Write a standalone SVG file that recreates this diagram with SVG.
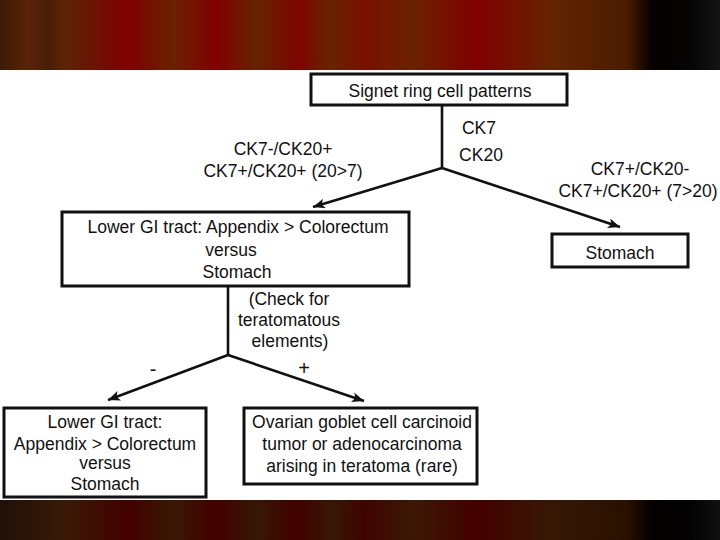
<svg xmlns="http://www.w3.org/2000/svg" width="720" height="540" viewBox="0 0 720 540">
<defs>
<linearGradient id="topband" x1="0" y1="0" x2="1" y2="0">
<stop offset="0" stop-color="#3c1a08"/>
<stop offset="0.04" stop-color="#5a2408"/>
<stop offset="0.065" stop-color="#4a1c06"/>
<stop offset="0.09" stop-color="#5c2406"/>
<stop offset="0.178" stop-color="#800000"/>
<stop offset="0.24" stop-color="#6a2200"/>
<stop offset="0.30" stop-color="#800000"/>
<stop offset="0.357" stop-color="#662400"/>
<stop offset="0.414" stop-color="#7e0400"/>
<stop offset="0.46" stop-color="#662400"/>
<stop offset="0.504" stop-color="#7a1000"/>
<stop offset="0.574" stop-color="#6a2200"/>
<stop offset="0.663" stop-color="#800000"/>
<stop offset="0.765" stop-color="#642400"/>
<stop offset="0.87" stop-color="#4a1c00"/>
<stop offset="0.905" stop-color="#080000"/>
<stop offset="0.96" stop-color="#050505"/>
<stop offset="1" stop-color="#141414"/>
</linearGradient>
<linearGradient id="botband" x1="0" y1="0" x2="1" y2="0">
<stop offset="0" stop-color="#201008"/>
<stop offset="0.09" stop-color="#3a1a06"/>
<stop offset="0.178" stop-color="#420000"/>
<stop offset="0.24" stop-color="#3a1804"/>
<stop offset="0.30" stop-color="#420000"/>
<stop offset="0.357" stop-color="#361804"/>
<stop offset="0.414" stop-color="#420000"/>
<stop offset="0.46" stop-color="#361804"/>
<stop offset="0.504" stop-color="#400400"/>
<stop offset="0.574" stop-color="#3a1804"/>
<stop offset="0.663" stop-color="#440000"/>
<stop offset="0.765" stop-color="#361804"/>
<stop offset="0.87" stop-color="#2a1000"/>
<stop offset="0.905" stop-color="#050000"/>
<stop offset="0.96" stop-color="#030303"/>
<stop offset="1" stop-color="#101010"/>
</linearGradient>
<marker id="arrow" markerUnits="userSpaceOnUse" markerWidth="13" markerHeight="10" refX="12" refY="5" orient="auto">
<path d="M0,0 L12,5 L0,10 L3,5 z" fill="#111"/>
</marker>
<style>
.box{fill:#fff;stroke:#111;stroke-width:3}
.t{font-family:"Liberation Sans",Arial,sans-serif;font-size:17.5px;fill:#111;text-anchor:middle}
.s{font-size:20px}
.ln{stroke:#111;stroke-width:2.6;fill:none}
</style>
</defs>
<rect x="0" y="0" width="720" height="540" fill="#fff"/>
<rect x="0" y="0" width="720" height="70" fill="url(#topband)"/>
<rect x="0" y="500" width="720" height="40" fill="url(#botband)"/>

<g id="connectors">
<line class="ln" x1="442" y1="105" x2="442" y2="168"/>
<line class="ln" x1="442" y1="168" x2="313" y2="207" marker-end="url(#arrow)"/>
<line class="ln" x1="442" y1="168" x2="620" y2="227" marker-end="url(#arrow)"/>
<line class="ln" x1="228" y1="286" x2="228" y2="355"/>
<line class="ln" x1="228" y1="355" x2="108" y2="400" marker-end="url(#arrow)"/>
<line class="ln" x1="228" y1="355" x2="364" y2="401" marker-end="url(#arrow)"/>
<text class="t" x="479" y="134">CK7</text>
<text class="t" x="481" y="161">CK20</text>
<text class="t" x="283" y="155">CK7-/CK20+</text>
<text class="t" x="283" y="177">CK7+/CK20+ (20&gt;7)</text>
<text class="t" x="640" y="175">CK7+/CK20-</text>
<text class="t" x="638" y="197">CK7+/CK20+ (7&gt;20)</text>
<text class="t" x="289" y="305">(Check for</text>
<text class="t" x="289" y="326">teratomatous</text>
<text class="t" x="290" y="347">elements)</text>
<text class="t s" x="153" y="376">-</text>
<text class="t s" x="304" y="375">+</text>
</g>

<g id="signet">
<rect class="box" x="311" y="74" width="256" height="31"/>
<text class="t" x="440" y="97">Signet ring cell patterns</text>
</g>

<g id="lowergi">
<rect class="box" x="62" y="212" width="347" height="74"/>
<text class="t" x="238" y="233">Lower GI tract: Appendix &gt; Colorectum</text>
<text class="t" x="231" y="256">versus</text>
<text class="t" x="237" y="278">Stomach</text>
</g>

<g id="stomach">
<rect class="box" x="552" y="234" width="136" height="33"/>
<text class="t" x="620" y="259">Stomach</text>
</g>

<g id="lowergi2">
<rect class="box" x="4" y="408" width="202" height="89"/>
<text class="t" x="105" y="428">Lower GI tract:</text>
<text class="t" x="105" y="450">Appendix &gt; Colorectum</text>
<text class="t" x="105" y="469">versus</text>
<text class="t" x="105" y="490">Stomach</text>
</g>

<g id="ovarian">
<rect class="box" x="244" y="408" width="233" height="76"/>
<text class="t" x="362" y="428">Ovarian goblet cell carcinoid</text>
<text class="t" x="362" y="450">tumor or adenocarcinoma</text>
<text class="t" x="362" y="472">arising in teratoma (rare)</text>
</g>
</svg>
